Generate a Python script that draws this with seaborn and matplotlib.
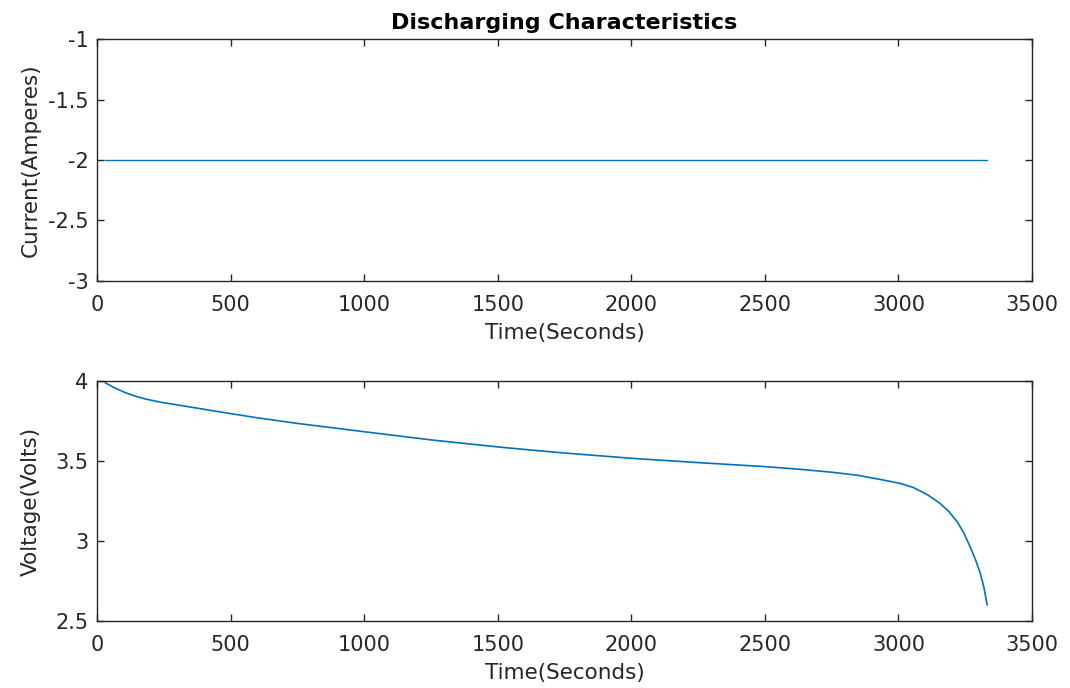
import matplotlib
matplotlib.use("Agg")
import matplotlib.pyplot as plt
import seaborn as sns
import pandas as pd

# ---- data ----
current_time = [30, 3332]
current_amps = [-2.0, -2.0]

volt_time = [30, 60, 105, 140, 180, 240, 303, 430, 592, 750, 1000, 1250, 1500,
             1621, 1750, 2000, 2250, 2500, 2632, 2750, 2850, 2931, 3006, 3055,
             3110, 3156, 3190, 3220, 3245, 3268, 3288, 3306, 3320, 3332]
volt_values = [3.99, 3.962, 3.928, 3.907, 3.888, 3.867, 3.85, 3.815, 3.772,
               3.735, 3.683, 3.632, 3.588, 3.569, 3.55, 3.517, 3.49, 3.465,
               3.448, 3.43, 3.41, 3.385, 3.36, 3.335, 3.288, 3.235, 3.182,
               3.12, 3.05, 2.965, 2.885, 2.80, 2.71, 2.60]

x_ticks = [0, 500, 1000, 1500, 2000, 2500, 3000, 3500]
cur_ticks = [-3, -2.5, -2, -1.5, -1]
volt_ticks = [2.5, 3, 3.5, 4]

sns.set_style("ticks")
plt.rcParams['font.family'] = ['DejaVu Sans']
plt.rcParams['axes.unicode_minus'] = False

blue = "#0072BD"
edge = "#262626"

fig = plt.figure(figsize=(10.7, 6.88), dpi=100)
ax1 = fig.add_axes([0.0907, 0.5916, 0.8738, 0.3517])
ax2 = fig.add_axes([0.0907, 0.0974, 0.8738, 0.3488])

df1 = pd.DataFrame({"t": current_time, "i": current_amps})
df2 = pd.DataFrame({"t": volt_time, "v": volt_values})
sns.lineplot(data=df1, x="t", y="i", ax=ax1, color=blue, linewidth=1.0)
sns.lineplot(data=df2, x="t", y="v", ax=ax2, color=blue, linewidth=1.2)

def style(ax, yt, ylim, ylabel):
    ax.set_xlim(0, 3500)
    ax.set_ylim(*ylim)
    ax.set_xticks(x_ticks)
    ax.set_xticklabels([str(v) for v in x_ticks])
    ax.set_yticks(yt)
    ax.set_yticklabels([("%g" % v) for v in yt])
    ax.tick_params(direction="in", length=5, width=1, colors=edge,
                   labelsize=15, top=True, right=True)
    ax.tick_params(axis="x", pad=10)
    ax.tick_params(axis="y", pad=6)
    for s in ax.spines.values():
        s.set_visible(True)
        s.set_color(edge)
        s.set_linewidth(1.0)
    ax.set_xlabel("Time(Seconds)", fontsize=15.5, color=edge, labelpad=6)
    ax.set_ylabel(ylabel, fontsize=15.5, color=edge)
    ax.yaxis.set_label_coords(-0.06, 0.5)
    ax.grid(False)

style(ax1, cur_ticks, (-3, -1), "Current(Amperes)")
style(ax2, volt_ticks, (2.5, 4), "Voltage(Volts)")
ax1.set_title("Discharging Characteristics", fontsize=16, fontweight="bold",
              color="black", pad=7)

fig.savefig("out.png", dpi=100)
